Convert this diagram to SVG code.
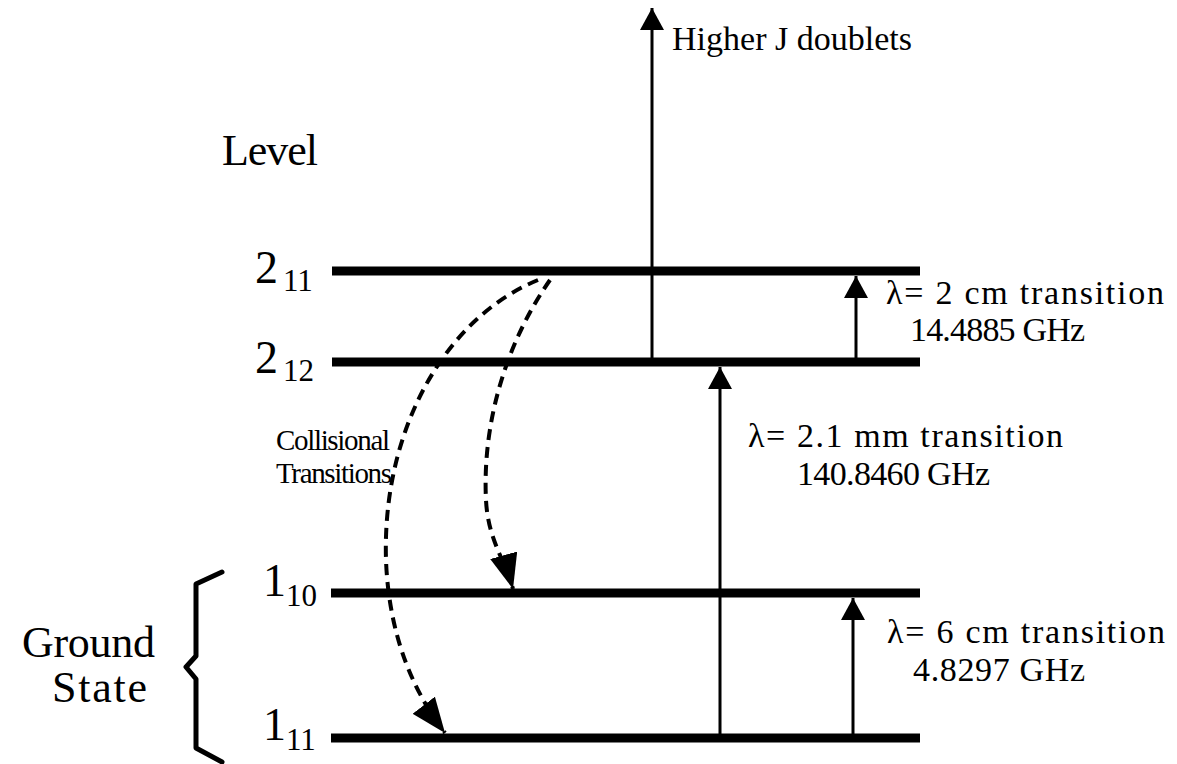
<svg xmlns="http://www.w3.org/2000/svg" width="1177" height="764" viewBox="0 0 1177 764">
<style>
  text { font-family: "Liberation Serif", "Times New Roman", serif; fill: #000; }
  .lvl { stroke: #000; stroke-width: 9; fill: none; }
  .big { font-size: 44px; }
  .num { font-size: 46px; }
  .sub { font-size: 31px; }
  .lab { font-size: 34px; }
  .col { font-size: 29px; }
  .solid { stroke: #000; stroke-width: 3; fill: none; }
  .dash { stroke: #000; stroke-width: 4; fill: none; stroke-dasharray: 11 7; }
  .brace { stroke: #000; stroke-width: 5; fill: none; stroke-linejoin: round; stroke-linecap: round; }
</style>
<defs>
  <marker id="ah" markerUnits="userSpaceOnUse" viewBox="0 0 22 24" markerWidth="22" markerHeight="24" refX="22" refY="12" orient="auto">
    <path d="M0,0 L22,12 L0,24 z" fill="#000"/>
  </marker>
  <marker id="dh" markerUnits="userSpaceOnUse" viewBox="0 0 35 28" markerWidth="35" markerHeight="28" refX="35" refY="14" orient="auto">
    <path d="M0,0 L35,14 L0,28 z" fill="#000"/>
  </marker>
</defs>
<rect width="1177" height="764" fill="#fff"/>

<g id="title-level"><text class="big" x="222" y="165" textLength="96">Level</text></g>

<g id="level-2-11">
  <line class="lvl" x1="332" y1="271" x2="920" y2="271"/>
  <text class="num" x="255" y="283">2</text><text class="sub" x="283" y="291">11</text>
</g>
<g id="level-2-12">
  <line class="lvl" x1="332" y1="362" x2="920" y2="362"/>
  <text class="num" x="255" y="373">2</text><text class="sub" x="283" y="381">12</text>
</g>
<g id="level-1-10">
  <line class="lvl" x1="331" y1="593" x2="920" y2="593"/>
  <text class="num" x="263" y="596">1</text><text class="sub" x="286" y="606">10</text>
</g>
<g id="level-1-11">
  <line class="lvl" x1="331" y1="738" x2="920" y2="738"/>
  <text class="num" x="263" y="740">1</text><text class="sub" x="286" y="750">11</text>
</g>

<g id="ground-state">
  <polyline class="brace" points="222,572 196,584 196,656 186,667 196,679 196,748 222,762"/>
  <text class="big" x="22" y="657" textLength="133">Ground</text>
  <text class="big" x="52" y="702" textLength="95">State</text>
</g>

<g id="collisional-label">
  <text class="col" x="276" y="450" textLength="114">Collisional</text>
  <text class="col" x="276" y="483" textLength="116">Transitions</text>
</g>

<g id="higher-label"><text class="lab" x="672" y="50" textLength="240">Higher J doublets</text></g>

<g id="label-2cm">
  <text class="lab" x="886" y="304" textLength="278">λ= 2 cm transition</text>
  <text class="lab" x="910" y="341" textLength="175">14.4885 GHz</text>
</g>
<g id="label-2mm">
  <text class="lab" x="748" y="447" textLength="315">λ= 2.1 mm transition</text>
  <text class="lab" x="797" y="485" textLength="193">140.8460 GHz</text>
</g>
<g id="label-6cm">
  <text class="lab" x="887" y="643" textLength="278">λ= 6 cm transition</text>
  <text class="lab" x="913" y="681" textLength="172">4.8297 GHz</text>
</g>

<g id="connectors">
  <path class="solid" d="M652,362 L652,8" marker-end="url(#ah)"/>
  <path class="solid" d="M856,362 L856,276" marker-end="url(#ah)"/>
  <path class="solid" d="M720,738 L720,367" marker-end="url(#ah)"/>
  <path class="solid" d="M853,738 L853,598" marker-end="url(#ah)"/>
  <path class="dash" d="M538,280 C445,318 382,430 386,560 C389,640 416,695 445,733" marker-end="url(#dh)"/>
  <path class="dash" d="M550,280 C508,340 482,420 486,500 C488,540 505,560 513,589" marker-end="url(#dh)"/>
</g>
</svg>
